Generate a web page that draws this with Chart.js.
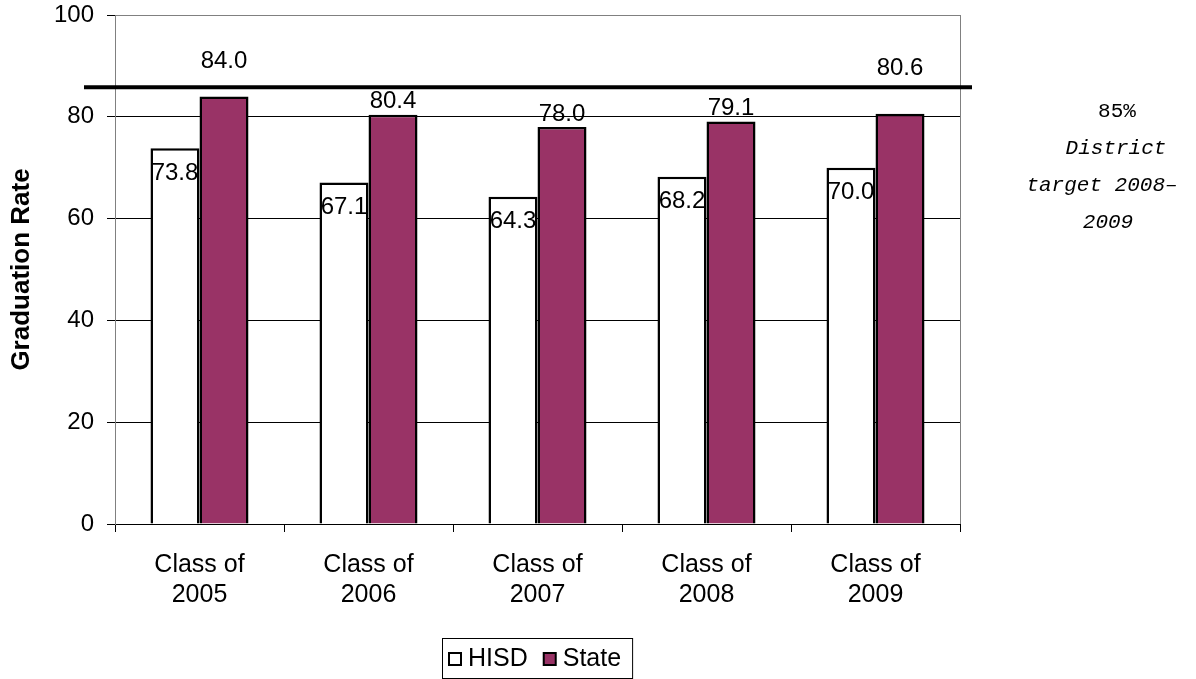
<!DOCTYPE html>
<html>
<head>
<meta charset="utf-8">
<script src="https://cdn.jsdelivr.net/npm/chart.js@4.4.0/dist/chart.umd.min.js"></script>
<style>
  html, body { margin: 0; padding: 0; background: #fff; }
  #wrap { width: 1196px; height: 679px; }
</style>
</head>
<body>
<div id="wrap"><canvas id="c" width="1196" height="679"></canvas></div>
<script>
var categories = [["Class of", "2005"], ["Class of", "2006"], ["Class of", "2007"], ["Class of", "2008"], ["Class of", "2009"]]
var hisd = [73.8, 67.1, 64.3, 68.2, 70.0]
var state = [84.0, 80.4, 78.0, 79.1, 80.6]
var yTicks = [0, 20, 40, 60, 80, 100]
var target = 85
var targetText = ["85%", "District", "target 2008\u2013", "2009"]

var FONT = "'Liberation Sans', Arial, sans-serif"
var MAROON = "#993366"

// labels on the bars, like the excel original
var barLabels = {
  id: "barLabels",
  afterDatasetsDraw(chart) {
    var ctx = chart.ctx
    ctx.save()
    ctx.font = "24px " + FONT
    ctx.fillStyle = "#000"
    ctx.textAlign = "center"
    ctx.textBaseline = "middle"
    var lift = [-22, 0, 0, 0, -32]
    chart.getDatasetMeta(0).data.forEach((bar, i) => {
      ctx.fillText(hisd[i].toFixed(1), bar.x, bar.y + 25)
    })
    chart.getDatasetMeta(1).data.forEach((bar, i) => {
      ctx.fillText(state[i].toFixed(1), bar.x, bar.y - 13 + lift[i])
    })
    ctx.restore()
  }
}

// frame, target line, note and legend
var extras = {
  id: "extras",
  beforeDatasetsDraw(chart) {
    var a = chart.chartArea, ctx = chart.ctx
    ctx.save()
    ctx.strokeStyle = "#808080"
    ctx.lineWidth = 1
    ctx.beginPath()
    ctx.moveTo(Math.round(a.right) + 0.5, a.top)
    ctx.lineTo(Math.round(a.right) + 0.5, a.bottom)
    ctx.stroke()
    ctx.restore()
  },
  afterDatasetsDraw(chart) {
    var a = chart.chartArea, ctx = chart.ctx
    var y = chart.scales.y.getPixelForValue(target) - 4
    ctx.save()
    ctx.strokeStyle = "#000"
    ctx.lineWidth = 4
    ctx.beginPath()
    ctx.moveTo(a.left - 31, y)
    ctx.lineTo(a.right + 12, y)
    ctx.stroke()

    // note on the right
    ctx.fillStyle = "#000"
    ctx.textAlign = "center"
    ctx.textBaseline = "middle"
    var nx = [157, 156, 142, 148]
    targetText.forEach((t, i) => {
      ctx.font = (i == 0 ? "" : "italic ") + "21px 'Liberation Mono', 'Courier New', monospace"
      ctx.fillText(t, a.right + nx[i], 111 + i * 37)
    })

    // legend box
    ctx.font = "25px " + FONT
    var items = [["HISD", "#fff"], ["State", MAROON]]
    var box = 12, gap = 7, sep = 16, padL = 7, padR = 11
    var total = 0
    items.forEach((it, i) => {
      total += box + gap + ctx.measureText(it[0]).width + (i ? sep : 0)
    })
    var w = total + padL + padR, h = 40
    var lx = Math.round((a.left + a.right) / 2 - w / 2), ly = chart.height - h - 1
    ctx.strokeStyle = "#000"
    ctx.lineWidth = 1
    ctx.strokeRect(lx + 0.5, ly + 0.5, w, h)
    var x = lx + padL, cy = ly + h / 2 + 1
    ctx.textAlign = "left"
    items.forEach((it, i) => {
      if (i) x += sep
      ctx.fillStyle = it[1]
      ctx.fillRect(x, cy - box / 2, box, box)
      ctx.lineWidth = 2
      ctx.strokeRect(x, cy - box / 2, box, box)
      x += box + gap
      ctx.fillStyle = "#000"
      ctx.fillText(it[0], x, cy)
      x += ctx.measureText(it[0]).width
    })
    ctx.restore()
  }
}

new Chart(document.getElementById("c").getContext("2d"), {
  type: "bar",
  data: {
    labels: categories,
    datasets: [
      {
        label: "HISD",
        data: hisd,
        backgroundColor: "#fff",
        borderColor: "#000",
        borderWidth: 2.5,
        borderSkipped: "bottom",
        categoryPercentage: 0.58,
        barPercentage: 1
      },
      {
        label: "State",
        data: state,
        backgroundColor: MAROON,
        borderColor: "#000",
        borderWidth: 2.5,
        borderSkipped: "bottom",
        categoryPercentage: 0.58,
        barPercentage: 1
      }
    ]
  },
  options: {
    responsive: false,
    animation: false,
    layout: { padding: { top: 15, right: 236, left: 0, bottom: 0 } },
    plugins: {
      legend: { display: false },
      tooltip: { enabled: false }
    },
    scales: {
      x: {
        afterFit(s) { s.height = 155 },
        grid: {
          offset: true,
          drawOnChartArea: false,
          drawTicks: true,
          tickLength: 8,
          color: "#000"
        },
        border: { color: "#000", width: 1 },
        ticks: {
          color: "#000",
          font: { family: FONT, size: 25 },
          padding: 18,
          maxRotation: 0
        }
      },
      y: {
        min: 0,
        max: 100,
        afterFit(s) {
          s.width = 115
          s.paddingTop = 0
          s.paddingBottom = 0
        },
        afterBuildTicks(s) { s.ticks = yTicks.map(v => ({ value: v })) },
        grid: {
          color: c => (c.tick && c.tick.value == 100 ? "#808080" : "#000"),
          tickColor: "#000",
          tickLength: 8,
          lineWidth: 1
        },
        border: { color: "#808080", width: 1 },
        ticks: {
          color: "#000",
          font: { family: FONT, size: 24 },
          padding: 13
        },
        title: {
          display: true,
          text: "Graduation Rate",
          color: "#000",
          font: { family: FONT, size: 26, weight: "bold" },
          padding: { top: 6, bottom: 0 }
        }
      }
    }
  },
  plugins: [extras, barLabels]
})
</script>
</body>
</html>
